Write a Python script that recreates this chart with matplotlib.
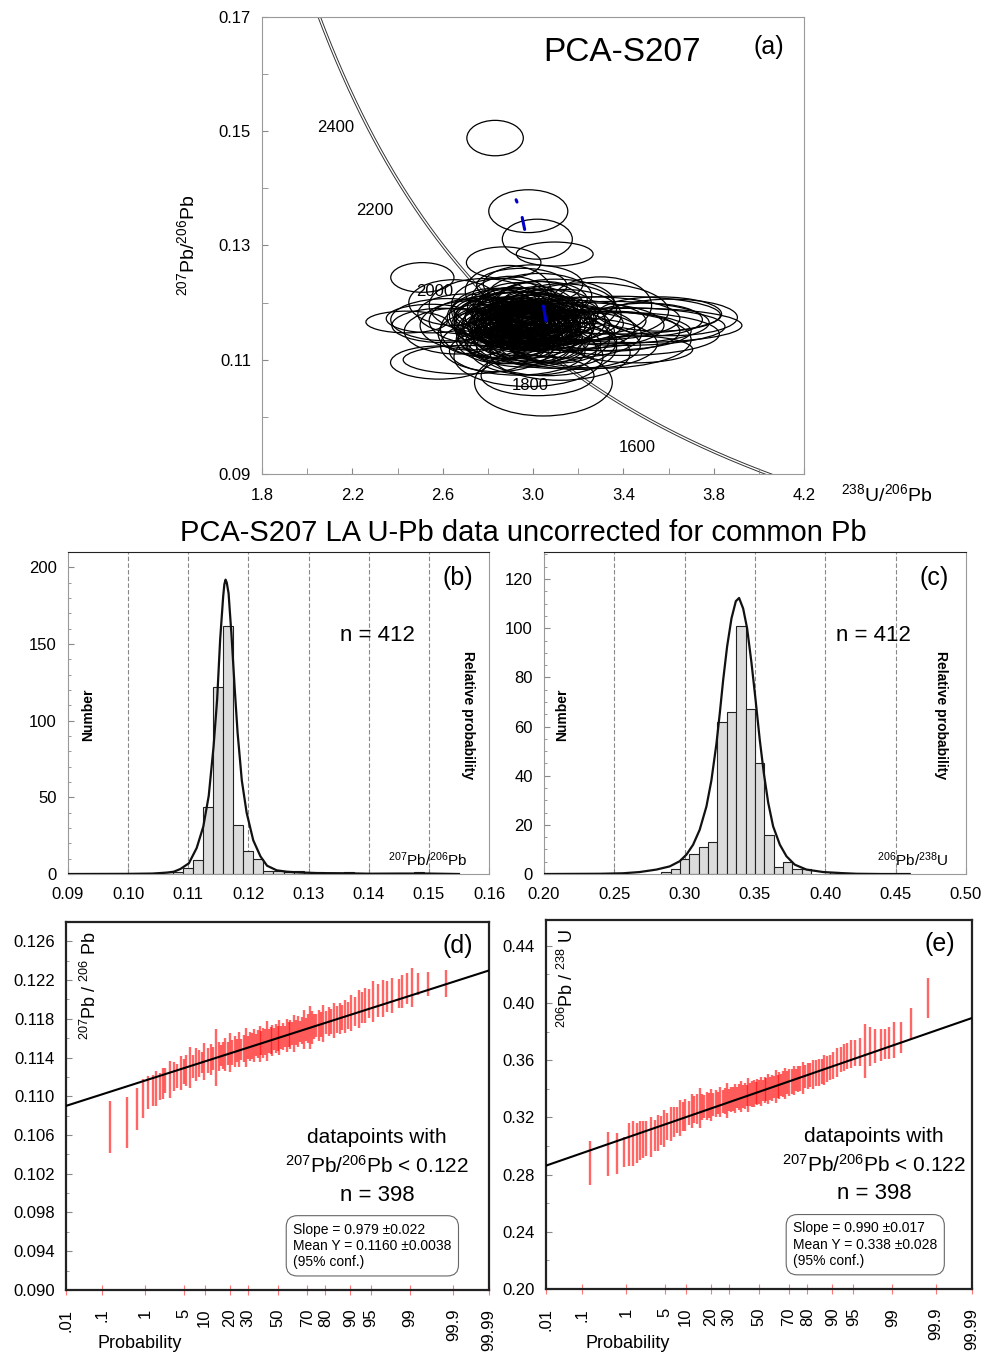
import numpy as np
import matplotlib
matplotlib.use('Agg')
import matplotlib.pyplot as plt
from matplotlib.patches import Ellipse
from matplotlib.ticker import MultipleLocator, FixedLocator
from statistics import NormalDist

plt.rcParams['font.family'] = ['Liberation Sans', 'DejaVu Sans']
plt.rcParams['mathtext.fontset'] = 'custom'
plt.rcParams['mathtext.rm'] = 'Liberation Sans'
plt.rcParams['mathtext.it'] = 'Liberation Sans:italic'
plt.rcParams['mathtext.bf'] = 'Liberation Sans:bold'

# ---------------- data ----------------
# (a) Tera-Wasserburg plot: error ellipses (centre, full width / height)
ell_x = [2.832, 2.979, 3.019, 3.096, 2.870, 2.510, 2.440, 3.610, 3.560, 3.500,
         3.046, 3.020, 2.584, 3.452, 2.700, 2.650, 2.950, 3.300, 3.350, 3.200,
         2.95, 2.90, 3.00, 2.88, 3.05, 2.92, 2.98, 3.08, 2.85, 2.97,
         3.02, 2.93, 2.87, 3.10, 2.96, 2.82, 3.04, 2.99, 2.91, 3.12,
         2.89, 3.01, 2.94, 3.06, 2.84, 2.97, 3.03, 2.90, 3.14, 2.80,
         2.95, 3.00, 2.86, 3.07, 2.93, 3.09, 2.88, 2.98, 3.16, 2.78,
         3.02, 2.92, 2.96, 3.11, 2.83, 3.05, 2.94, 2.99, 2.87, 3.13,
         2.76, 3.18, 2.91, 3.04, 2.97, 2.81, 3.08, 2.90, 3.22, 2.74,
         3.00, 2.86, 3.15, 2.95, 3.06, 2.72, 3.26, 2.84, 3.10, 2.93,
         3.30, 2.70, 3.03, 2.89, 3.20, 2.78, 3.35, 2.66, 3.12, 2.98,
         3.40, 2.62, 3.00, 3.25,
         2.96, 2.91, 3.01, 2.94, 2.99, 2.89, 3.03, 2.97, 2.92, 3.00,
         2.95, 2.98, 2.93, 3.02, 2.90, 2.96, 3.04, 2.94, 2.99, 2.88,
         3.01, 2.95, 2.92, 2.97, 3.06, 2.93, 2.98, 2.91, 3.00, 2.96,
         2.94, 3.03, 2.89, 2.97, 3.02, 2.95, 2.92, 3.05, 2.99, 2.90,
         2.96, 3.01, 2.93, 2.98, 2.94, 3.00, 2.97, 2.95,
         3.45, 3.40, 3.38, 3.30, 2.60, 2.55]
ell_y = [0.1488, 0.1360, 0.1311, 0.1285, 0.1270, 0.1244, 0.1166, 0.1174, 0.1180, 0.1170,
         0.1060, 0.1072, 0.1095, 0.1118, 0.1100, 0.1200, 0.1230, 0.1195, 0.1150, 0.1125,
         0.1165, 0.1160, 0.1170, 0.1172, 0.1158, 0.1150, 0.1178, 0.1168, 0.1162, 0.1155,
         0.1182, 0.1142, 0.1180, 0.1150, 0.1168, 0.1158, 0.1174, 0.1148, 0.1186, 0.1163,
         0.1153, 0.1161, 0.1175, 0.1145, 0.1170, 0.1190, 0.1152, 0.1138, 0.1178, 0.1166,
         0.1158, 0.1140, 0.1148, 0.1185, 0.1167, 0.1160, 0.1192, 0.1135, 0.1155, 0.1175,
         0.1196, 0.1130, 0.1172, 0.1138, 0.1185, 0.1128, 0.1200, 0.1163, 0.1135, 0.1190,
         0.1152, 0.1168, 0.1177, 0.1205, 0.1125, 0.1145, 0.1132, 0.1208, 0.1160, 0.1168,
         0.1118, 0.1198, 0.1145, 0.1182, 0.1122, 0.1160, 0.1172, 0.1125, 0.1200, 0.1115,
         0.1150, 0.1180, 0.1212, 0.1220, 0.1128, 0.1195, 0.1165, 0.1150, 0.1112, 0.1105,
         0.1158, 0.1170, 0.1232, 0.1185,
         0.1164, 0.1158, 0.1168, 0.1171, 0.1160, 0.1166, 0.1162, 0.1154, 0.1173, 0.1157,
         0.1169, 0.1163, 0.1161, 0.1159, 0.1170, 0.1176, 0.1165, 0.1152, 0.1167, 0.1160,
         0.1174, 0.1156, 0.1166, 0.1162, 0.1158, 0.1178, 0.1150, 0.1163, 0.1171, 0.1159,
         0.1168, 0.1155, 0.1172, 0.1165, 0.1162, 0.1148, 0.1160, 0.1170, 0.1157, 0.1180,
         0.1161, 0.1165, 0.1153, 0.1175, 0.1163, 0.1168, 0.1158, 0.1166,
         0.1160, 0.1145, 0.1178, 0.1135, 0.1160, 0.1172]
ell_w = [0.25, 0.35, 0.31, 0.34, 0.33, 0.28, 0.36, 0.59, 0.55, 0.50,
         0.61, 0.50, 0.43, 0.51, 0.55, 0.40, 0.40, 0.45, 0.60, 0.55,
         0.40, 0.36, 0.42, 0.30, 0.44, 0.38, 0.34, 0.48, 0.32, 0.46,
         0.36, 0.40, 0.28, 0.52, 0.30, 0.34, 0.38, 0.44, 0.32, 0.56,
         0.42, 0.26, 0.48, 0.40, 0.36, 0.42, 0.34, 0.46, 0.50, 0.30,
         0.52, 0.38, 0.40, 0.44, 0.28, 0.36, 0.34, 0.48, 0.58, 0.32,
         0.40, 0.44, 0.62, 0.46, 0.38, 0.50, 0.36, 0.70, 0.42, 0.48,
         0.34, 0.64, 0.56, 0.40, 0.52, 0.46, 0.58, 0.34, 0.72, 0.40,
         0.56, 0.44, 0.66, 0.60, 0.62, 0.44, 0.78, 0.50, 0.52, 0.60,
         0.80, 0.42, 0.46, 0.38, 0.70, 0.48, 0.86, 0.46, 0.62, 0.66,
         0.90, 0.50, 0.44, 0.70,
         0.30, 0.26, 0.34, 0.28, 0.32, 0.24, 0.36, 0.30, 0.26, 0.38,
         0.22, 0.34, 0.28, 0.30, 0.32, 0.26, 0.40, 0.30, 0.24, 0.34,
         0.28, 0.36, 0.30, 0.20, 0.42, 0.32, 0.38, 0.26, 0.30, 0.44,
         0.34, 0.28, 0.30, 0.24, 0.36, 0.40, 0.32, 0.46, 0.26, 0.34,
         0.48, 0.30, 0.36, 0.28, 0.18, 0.32, 0.52, 0.26,
         0.95, 0.85, 0.90, 0.80, 0.45, 0.40]
ell_h = [0.0062, 0.0075, 0.0070, 0.0042, 0.0055, 0.0052, 0.0038, 0.0064, 0.0060, 0.0058,
         0.0117, 0.0070, 0.0058, 0.0047, 0.0050, 0.0080, 0.0060, 0.0100, 0.0070, 0.0080,
         0.0085, 0.0080, 0.0090, 0.0075, 0.0082, 0.0095, 0.0070, 0.0088, 0.0090, 0.0078,
         0.0092, 0.0070, 0.0085, 0.0075, 0.0100, 0.0068, 0.0080, 0.0090, 0.0082, 0.0070,
         0.0105, 0.0072, 0.0088, 0.0095, 0.0078, 0.0070, 0.0110, 0.0080, 0.0090, 0.0085,
         0.0068, 0.0100, 0.0092, 0.0076, 0.0090, 0.0084, 0.0066, 0.0086, 0.0078, 0.0072,
         0.0082, 0.0074, 0.0092, 0.0088, 0.0080, 0.0066, 0.0070, 0.0080, 0.0084, 0.0086,
         0.0090, 0.0072, 0.0098, 0.0064, 0.0076, 0.0082, 0.0094, 0.0076, 0.0080, 0.0078,
         0.0090, 0.0088, 0.0084, 0.0074, 0.0100, 0.0086, 0.0076, 0.0092, 0.0082, 0.0084,
         0.0068, 0.0070, 0.0078, 0.0090, 0.0090, 0.0094, 0.0074, 0.0080, 0.0096, 0.0104,
         0.0066, 0.0074, 0.0068, 0.0100,
         0.0060, 0.0055, 0.0065, 0.0058, 0.0062, 0.0050, 0.0068, 0.0064, 0.0052, 0.0070,
         0.0048, 0.0060, 0.0066, 0.0056, 0.0062, 0.0054, 0.0070, 0.0058, 0.0050, 0.0064,
         0.0056, 0.0066, 0.0060, 0.0046, 0.0072, 0.0058, 0.0068, 0.0052, 0.0060, 0.0074,
         0.0062, 0.0056, 0.0058, 0.0050, 0.0066, 0.0070, 0.0064, 0.0072, 0.0054, 0.0060,
         0.0076, 0.0058, 0.0068, 0.0056, 0.0042, 0.0062, 0.0078, 0.0054,
         0.0060, 0.0075, 0.0066, 0.0100, 0.0060, 0.0050]
# blue segments
blue_x0 = [2.925, 2.952, 3.046]
blue_x1 = [2.929, 2.963, 3.057]
blue_y0 = [0.1380, 0.1349, 0.1194]
blue_y1 = [0.1376, 0.1328, 0.1168]
# concordia age labels (Ma)
ages = [1600, 1800, 2000, 2200, 2400]

# (b) 207Pb/206Pb histogram and probability curve
b_centres = [0.10667, 0.10833, 0.11000, 0.11167, 0.11333, 0.11500, 0.11667, 0.11833, 0.12000,
             0.12167, 0.12333, 0.12500, 0.12667, 0.12833, 0.13000, 0.13167, 0.13667, 0.14833]
b_counts = [1, 1, 4, 9, 44, 122, 162, 32, 15, 10, 2, 2, 1, 2, 1, 1, 1, 1]
b_curve_x = [0.090, 0.100, 0.104, 0.1064, 0.1076, 0.1087, 0.1101, 0.1114, 0.1125, 0.1134,
             0.1142, 0.1148, 0.1153, 0.1158, 0.1160, 0.1162, 0.1164, 0.1167, 0.1172, 0.1177,
             0.1182, 0.1189, 0.1197, 0.1208, 0.1220, 0.1231, 0.1247, 0.1264, 0.1286, 0.1314,
             0.1360, 0.1400, 0.1450, 0.1500, 0.1550]
b_curve_y = [0, 0.1, 0.3, 0.9, 1.5, 3.3, 7, 17, 31, 51,
             83, 114, 153, 181, 189, 192, 190, 183, 155, 122,
             92, 61, 40, 22, 11.5, 5.4, 2.4, 1.5, 1.0, 0.6,
             0.5, 0.2, 0.3, 0.3, 0]

# (c) 206Pb/238U histogram and probability curve
c_centres = [0.28667, 0.29333, 0.30000, 0.30667, 0.31333, 0.32000, 0.32667, 0.33333, 0.34000,
             0.34667, 0.35333, 0.36000, 0.36667, 0.37333, 0.38000, 0.38667, 0.40667]
c_counts = [1, 2, 6, 8, 11, 13, 62, 66, 101, 67, 45, 16, 3, 5, 2, 2, 1]
c_curve_x = [0.200, 0.240, 0.2562, 0.268, 0.2799, 0.2894, 0.2965, 0.3013, 0.3060, 0.3107,
             0.3155, 0.3190, 0.3226, 0.3250, 0.3274, 0.3302, 0.3333, 0.3364, 0.3387, 0.3416,
             0.3444, 0.3475, 0.3504, 0.3534, 0.3563, 0.3594, 0.3629, 0.3677, 0.3724, 0.3783,
             0.3866, 0.3985, 0.4104, 0.4222, 0.440, 0.460]
c_curve_y = [0, 0.1, 0.3, 0.8, 1.8, 3.1, 5.2, 7.9, 11.9, 18,
             27.5, 38, 53, 65.5, 79, 92.6, 104, 111, 112.3, 108,
             100, 86, 71, 54.6, 41, 29, 19.4, 11.9, 7.2, 3.8,
             1.8, 0.8, 0.4, 0.1, 0, 0]

# (d), (e) probability plots: rank of datapoint (n = 398), value, 2-sigma half error
n_pts = 398
ranks = [1, 2, 3, 4, 5, 6, 7, 8, 9, 10,
         12, 14, 16, 18, 20, 22, 25, 28, 31, 34, 37, 40,
         44, 48, 52, 56, 60, 64, 68, 72, 76, 80,
         85, 90, 95, 100, 105, 110, 115, 120, 125, 130, 135, 140,
         145, 150, 155, 160, 165, 170, 175, 180, 185, 190, 195, 200,
         205, 210, 215, 220, 225, 230, 235, 240, 245, 250, 255, 260, 265, 270,
         275, 280, 285, 290, 295, 300, 305, 310, 315, 320, 325, 330, 335,
         340, 344, 348, 352, 356, 360, 364, 368,
         371, 374, 377, 380, 383, 386, 388, 390, 392, 393, 394, 395, 396, 397, 398]
d_vals = [0.1068, 0.1073, 0.1087, 0.1098, 0.1104, 0.1106, 0.1108, 0.1110, 0.1113, 0.1116,
          0.1117, 0.1120, 0.1121, 0.1124, 0.1126, 0.1127, 0.1130, 0.1131, 0.1133, 0.1134, 0.1135, 0.1136,
          0.1137, 0.1138, 0.1139, 0.1140, 0.1141, 0.1142, 0.1142, 0.1143, 0.1144, 0.1145,
          0.1145, 0.1146, 0.1147, 0.1148, 0.1148, 0.1149, 0.1150, 0.1150, 0.1151, 0.1152, 0.1152, 0.1153,
          0.1154, 0.1154, 0.1155, 0.1155, 0.1156, 0.1157, 0.1157, 0.1158, 0.1158, 0.1159, 0.1160, 0.1160,
          0.1161, 0.1161, 0.1162, 0.1162, 0.1163, 0.1164, 0.1164, 0.1165, 0.1165, 0.1166, 0.1167, 0.1167, 0.1168, 0.1169,
          0.1169, 0.1170, 0.1171, 0.1171, 0.1172, 0.1173, 0.1173, 0.1174, 0.1175, 0.1176, 0.1177, 0.1177, 0.1178,
          0.1179, 0.1180, 0.1181, 0.1182, 0.1183, 0.1186, 0.1188, 0.1190,
          0.1192, 0.1194, 0.1196, 0.1198, 0.1199, 0.1201, 0.1203, 0.1204, 0.1206, 0.1208, 0.1211, 0.1212, 0.1216, 0.1216, 0.1216]
d_errs = [0.0027, 0.0026, 0.0022, 0.0020, 0.0017, 0.0016, 0.0018, 0.0014, 0.0016, 0.0013,
          0.0019, 0.0015, 0.0012, 0.0018, 0.0013, 0.0016, 0.0021, 0.0012, 0.0017, 0.0014, 0.0011, 0.0019,
          0.0013, 0.0016, 0.0012, 0.0029, 0.0015, 0.0011, 0.0014, 0.0017, 0.0012, 0.0020,
          0.0013, 0.0016, 0.0012, 0.0018, 0.0011, 0.0014, 0.0020, 0.0012, 0.0015, 0.0013, 0.0017, 0.0011,
          0.0014, 0.0019, 0.0012, 0.0015, 0.0013, 0.0021, 0.0012, 0.0014, 0.0016, 0.0011, 0.0015, 0.0013,
          0.0018, 0.0012, 0.0014, 0.0011, 0.0017, 0.0013, 0.0015, 0.0012, 0.0019, 0.0013, 0.0016, 0.0011, 0.0014, 0.0020,
          0.0012, 0.0015, 0.0022, 0.0017, 0.0013, 0.0012, 0.0016, 0.0013, 0.0019, 0.0012, 0.0015, 0.0013, 0.0018,
          0.0014, 0.0016, 0.0013, 0.0017, 0.0014, 0.0019, 0.0015, 0.0020,
          0.0016, 0.0018, 0.0015, 0.0021, 0.0017, 0.0019, 0.0016, 0.0018, 0.0015, 0.0017, 0.0016, 0.0020, 0.0011, 0.0012, 0.0014]
e_vals = [0.2881, 0.2944, 0.2948, 0.2958, 0.3012, 0.3016, 0.3021, 0.3040, 0.3047, 0.3052,
          0.3062, 0.3075, 0.3090, 0.3108, 0.3120, 0.3135, 0.3152, 0.3168, 0.3182, 0.3195, 0.3205, 0.3218,
          0.3232, 0.3245, 0.3255, 0.3262, 0.3268, 0.3272, 0.3276, 0.3280, 0.3284, 0.3288,
          0.3293, 0.3298, 0.3302, 0.3306, 0.3310, 0.3314, 0.3318, 0.3322, 0.3326, 0.3330, 0.3334, 0.3338,
          0.3341, 0.3345, 0.3348, 0.3352, 0.3355, 0.3358, 0.3361, 0.3365, 0.3368, 0.3372, 0.3376, 0.3379,
          0.3383, 0.3387, 0.3391, 0.3395, 0.3399, 0.3403, 0.3407, 0.3411, 0.3415, 0.3419, 0.3423, 0.3428, 0.3432, 0.3436,
          0.3441, 0.3446, 0.3451, 0.3456, 0.3461, 0.3467, 0.3472, 0.3477, 0.3483, 0.3489, 0.3495, 0.3502, 0.3509,
          0.3514, 0.3522, 0.3530, 0.3540, 0.3550, 0.3565, 0.3583, 0.3605,
          0.3619, 0.3630, 0.3642, 0.3650, 0.3658, 0.3666, 0.3694, 0.3697, 0.3705, 0.3710, 0.3720, 0.3742, 0.3760, 0.3854, 0.4038]
e_errs = [0.0152, 0.0152, 0.0144, 0.0105, 0.0150, 0.0158, 0.0140, 0.0135, 0.0130, 0.0120,
          0.0140, 0.0110, 0.0125, 0.0100, 0.0130, 0.0095, 0.0120, 0.0105, 0.0090, 0.0125, 0.0100, 0.0110,
          0.0085, 0.0120, 0.0095, 0.0105, 0.0140, 0.0090, 0.0080, 0.0100, 0.0085, 0.0110,
          0.0080, 0.0095, 0.0075, 0.0105, 0.0080, 0.0090, 0.0120, 0.0075, 0.0090, 0.0085, 0.0100, 0.0075,
          0.0090, 0.0110, 0.0080, 0.0090, 0.0075, 0.0120, 0.0080, 0.0090, 0.0095, 0.0075, 0.0090, 0.0085,
          0.0100, 0.0075, 0.0090, 0.0080, 0.0105, 0.0080, 0.0090, 0.0075, 0.0115, 0.0080, 0.0095, 0.0075, 0.0090, 0.0110,
          0.0080, 0.0095, 0.0085, 0.0100, 0.0075, 0.0090, 0.0085, 0.0110, 0.0080, 0.0090, 0.0085, 0.0100, 0.0090,
          0.0095, 0.0085, 0.0105, 0.0090, 0.0085, 0.0095, 0.0100, 0.0085,
          0.0095, 0.0090, 0.0100, 0.0090, 0.0100, 0.0187, 0.0135, 0.0120, 0.0110, 0.0105, 0.0115, 0.0125, 0.0107, 0.0108, 0.0140]
# fitted lines: mean and value per standard normal unit
d_line_mean, d_line_sd = 0.1160, 0.00188
e_line_mean, e_line_sd = 0.3379, 0.01388

prob_ticks = [0.01, 0.1, 1, 5, 10, 20, 30, 50, 70, 80, 90, 95, 99, 99.9, 99.99]
prob_labels = ['.01', '.1', '1', '5', '10', '20', '30', '50', '70', '80', '90', '95', '99', '99.9', '99.99']
d_yticks = [0.090, 0.094, 0.098, 0.102, 0.106, 0.110, 0.114, 0.118, 0.122, 0.126]
e_yticks = [0.20, 0.24, 0.28, 0.32, 0.36, 0.40, 0.44]

# ---------------- helpers ----------------
lam238 = 1.55125e-10
lam235 = 9.8485e-10


def concordia(t_ma):
    t = np.asarray(t_ma, dtype=float) * 1e6
    e8 = np.exp(lam238 * t) - 1
    e5 = np.exp(lam235 * t) - 1
    return 1 / e8, e5 / e8 / 137.88


nd = NormalDist()
_ppf = np.vectorize(nd.inv_cdf, otypes=[float])
_cdf = np.vectorize(nd.cdf, otypes=[float])


def prob_fwd(p):
    p = np.clip(np.asarray(p, dtype=float) / 100.0, 1e-9, 1 - 1e-9)
    return _ppf(p)


def prob_inv(z):
    return _cdf(np.asarray(z, dtype=float)) * 100.0


fig = plt.figure(figsize=(9.81, 13.58), dpi=100)

# ---------------- (a) ----------------
ax = fig.add_axes([0.2671, 0.6510, 0.5525, 0.3365])
t_curve = np.linspace(1350, 2800, 600)
cx, cy = concordia(t_curve)
ax.plot(cx, cy, color='#333333', lw=2.4, zorder=1)
ax.plot(cx, cy, color='white', lw=1.0, zorder=1.1)
for x, y, w, h in zip(ell_x, ell_y, ell_w, ell_h):
    ax.add_patch(Ellipse((x, y), w, h, fill=False, ec='black', lw=0.9, zorder=2))
for x0, x1, y0, y1 in zip(blue_x0, blue_x1, blue_y0, blue_y1):
    ax.plot([x0, x1], [y0, y1], color='#0000cc', lw=2.2, solid_capstyle='round', zorder=3)
label_offsets = [(-14, -17), (-19, -19), (-30, -4), (-26, -7), (-15, -17)]
ax_x, ax_y = concordia(ages)
for age, x, y, off in zip(ages, ax_x, ax_y, label_offsets):
    ax.annotate(str(age), (x, y), xytext=off, textcoords='offset points',
                ha='center', va='center', fontsize=12, zorder=4)
ax.set_xlim(1.8, 4.2)
ax.set_ylim(0.09, 0.17)
ax.xaxis.set_major_locator(FixedLocator([1.8, 2.2, 2.6, 3.0, 3.4, 3.8, 4.2]))
ax.xaxis.set_minor_locator(MultipleLocator(0.2))
ax.yaxis.set_major_locator(FixedLocator([0.09, 0.11, 0.13, 0.15, 0.17]))
ax.yaxis.set_minor_locator(MultipleLocator(0.01))
ax.set_xticklabels(['1.8', '2.2', '2.6', '3.0', '3.4', '3.8', '4.2'])
ax.set_yticklabels(['0.09', '0.11', '0.13', '0.15', '0.17'])
ax.tick_params(which='both', direction='in', length=4, color='#888888', labelsize=12)
ax.tick_params(axis='x', pad=10)
ax.tick_params(axis='y', pad=8)
for s in ax.spines.values():
    s.set_color('#999999')
ax.text(0.664, 0.923, 'PCA-S207', transform=ax.transAxes, fontsize=24, ha='center', va='center')
ax.text(0.935, 0.935, '(a)', transform=ax.transAxes, fontsize=18, ha='center', va='center')
fig.text(0.1906, 0.8196, r'$^{207}$Pb/$^{206}$Pb', rotation=90, ha='center', va='center', fontsize=14)
fig.text(0.904, 0.6362, r'$^{238}$U/$^{206}$Pb', ha='center', va='center', fontsize=14)

fig.text(0.533, 0.6075, 'PCA-S207 LA U-Pb data uncorrected for common Pb',
         ha='center', va='center', fontsize=21)

# ---------------- (b), (c) ----------------
hist_specs = [
    ([0.0693, 0.3564, 0.4292, 0.2371], b_centres, b_counts, 1 / 600, b_curve_x, b_curve_y,
     (0.09, 0.16), (0, 210), 50, 10, [0.10, 0.11, 0.12, 0.13, 0.14, 0.15],
     r'$^{207}$Pb/$^{206}$Pb', '(b)', 0.736, 0.048, 0.950, 0.855, 0.01),
    ([0.5545, 0.3564, 0.4302, 0.2371], c_centres, c_counts, 1 / 150, c_curve_x, c_curve_y,
     (0.20, 0.50), (0, 131), 20, 5, [0.25, 0.30, 0.35, 0.40, 0.45],
     r'$^{206}$Pb/$^{238}$U', '(c)', 0.78, 0.043, 0.941, 0.874, 0.05),
]
for (rect, centres, counts, bw, kx, ky, xlim, ylim, ymaj, ymin, grid,
     xname, tag, nx, numx, relx, namex, xstep) in hist_specs:
    ax = fig.add_axes(rect)
    for g in grid:
        ax.axvline(g, color='#888888', lw=0.8, ls=(0, (4, 2)), zorder=0)
    ax.bar(centres, counts, width=bw, color='#dcdcdc', edgecolor='#222222', lw=0.8, zorder=2)
    ax.plot(kx, ky, color='#111111', lw=1.6, zorder=3)
    ax.set_xlim(*xlim)
    ax.set_ylim(*ylim)
    ax.xaxis.set_major_locator(MultipleLocator(xstep))
    ax.xaxis.set_major_formatter(matplotlib.ticker.FormatStrFormatter('%.2f'))
    ax.yaxis.set_major_locator(MultipleLocator(ymaj))
    ax.yaxis.set_minor_locator(MultipleLocator(ymin))
    ax.tick_params(which='both', direction='in', color='#888888', labelsize=12)
    ax.tick_params(which='major', length=4)
    ax.tick_params(which='minor', length=2)
    ax.tick_params(axis='x', pad=9)
    ax.tick_params(axis='y', pad=8)
    for s in ax.spines.values():
        s.set_color('#999999')
    ax.spines['top'].set_color('#222222')
    ax.text(0.925, 0.92, tag, transform=ax.transAxes, fontsize=18, ha='center', va='center')
    ax.text(nx, 0.742, 'n = 412', transform=ax.transAxes, fontsize=16, ha='center', va='center')
    ax.text(numx, 0.494, 'Number', transform=ax.transAxes, rotation=90, fontsize=10,
            fontweight='bold', ha='center', va='center')
    ax.text(relx, 0.494, 'Relative probability', transform=ax.transAxes, rotation=270,
            fontsize=10, fontweight='bold', ha='center', va='center')
    ax.text(namex, 0.045, xname, transform=ax.transAxes, fontsize=11, ha='center', va='center')

# ---------------- (d), (e) ----------------
plot_pct = [100.0 * (r - 0.375) / (n_pts + 0.25) for r in ranks]
prob_specs = [
    ([0.0673, 0.0501, 0.4312, 0.2710], d_vals, d_errs, d_line_mean, d_line_sd,
     (0.090, 0.128), d_yticks, 0.002, '%.3f', r'$^{207}$Pb / $^{206}$ Pb', 0.057,
     '(d)', 0.735, 'Slope = 0.979 \u00b10.022\nMean Y = 0.1160 \u00b10.0038\n(95% conf.)', 0.537, 0.1427),
    ([0.5566, 0.0508, 0.4343, 0.2717], e_vals, e_errs, e_line_mean, e_line_sd,
     (0.20, 0.458), e_yticks, 0.02, '%.2f', r'$^{206}$Pb / $^{238}$ U', 0.049,
     '(e)', 0.77, 'Slope = 0.990 \u00b10.017\nMean Y = 0.338 \u00b10.028\n(95% conf.)', 0.58, 0.640),
]
for (rect, vals, errs, lmean, lsd, ylim, yticks, ymin, yfmt, yname, ynx,
     tag, tx, box, boxx, probx) in prob_specs:
    ax = fig.add_axes(rect)
    ax.set_xscale('function', functions=(prob_fwd, prob_inv))
    vals = np.array(vals)
    errs = np.array(errs)
    ax.vlines(plot_pct, vals - errs, vals + errs, colors='red', alpha=0.6, lw=1.7, zorder=2)
    ends = np.array([0.01, 99.99])
    ax.plot(ends, lmean + lsd * prob_fwd(ends), color='black', lw=1.5, zorder=3)
    ax.set_xlim(0.01, 99.99)
    ax.set_ylim(*ylim)
    ax.set_xticks(prob_ticks)
    ax.set_xticklabels(prob_labels, rotation=90, va='top')
    ax.xaxis.set_minor_locator(matplotlib.ticker.NullLocator())
    ax.yaxis.set_major_locator(FixedLocator(yticks))
    ax.yaxis.set_minor_locator(MultipleLocator(ymin))
    ax.yaxis.set_major_formatter(matplotlib.ticker.FormatStrFormatter(yfmt))
    ax.tick_params(axis='x', direction='inout', length=7, width=0.8, color='#ff7777',
                   labelsize=12, pad=10)
    ax.tick_params(axis='y', which='both', direction='in', color='#888888', labelsize=12, pad=8)
    ax.tick_params(axis='y', which='major', length=4)
    ax.tick_params(axis='y', which='minor', length=2)
    for s in ax.spines.values():
        s.set_linewidth(1.6)
        s.set_color('#222222')
    ax.text(ynx, 0.975, yname, transform=ax.transAxes, rotation=90, fontsize=13,
            ha='center', va='top')
    ax.text(0.925, 0.935, tag, transform=ax.transAxes, fontsize=18, ha='center', va='center')
    ax.text(tx, 0.413, 'datapoints with', transform=ax.transAxes, fontsize=15,
            family=['Liberation Sans Narrow', 'Liberation Sans'], ha='center', va='center')
    ax.text(tx, 0.337, r'$^{207}$Pb/$^{206}$Pb < 0.122', transform=ax.transAxes, fontsize=15,
            family=['Liberation Sans Narrow', 'Liberation Sans'], ha='center', va='center')
    ax.text(tx, 0.258, 'n = 398', transform=ax.transAxes, fontsize=16,
            ha='center', va='center')
    ax.text(boxx, 0.183, box, transform=ax.transAxes, fontsize=10, ha='left', va='top',
            linespacing=1.2,
            bbox=dict(boxstyle='round,pad=0.5,rounding_size=0.8', fc='white', ec='#666666', lw=0.8))
    fig.text(probx, 0.011, 'Probability', ha='center', va='center', fontsize=13)

fig.savefig('out.png', dpi=100)
